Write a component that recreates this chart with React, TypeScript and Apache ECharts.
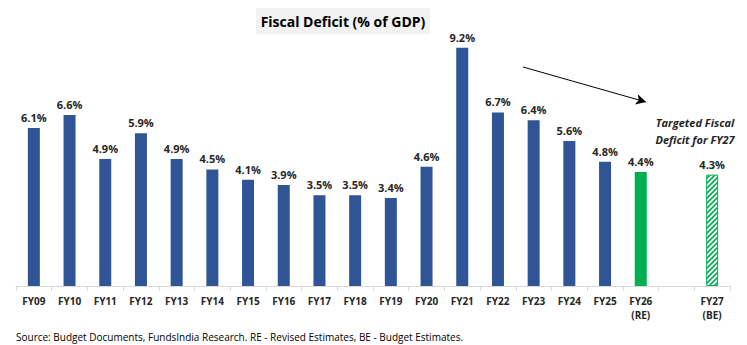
import React, { useEffect, useRef } from "react";
import * as echarts from "echarts";

const categories = ["FY09","FY10","FY11","FY12","FY13","FY14","FY15","FY16","FY17","FY18","FY19","FY20","FY21","FY22","FY23","FY24","FY25","FY26\n(RE)","","FY27\n(BE)"];
const values: (number | null)[] = [6.1,6.6,4.9,5.9,4.9,4.5,4.1,3.9,3.5,3.5,3.4,4.6,9.2,6.7,6.4,5.6,4.8,4.4,null,4.3];
const kinds = ["a","a","a","a","a","a","a","a","a","a","a","a","a","a","a","a","a","re","","be"];
const titleText = "Fiscal Deficit (% of GDP)";
const noteText = "Targeted Fiscal\nDeficit for FY27";
const sourceText = "Source: Budget Documents, FundsIndia Research. RE - Revised Estimates, BE - Budget Estimates.";

const BLUE = "#2F5597";
const GREEN = "#00B050";
const FONT = "'Open Sans', 'Liberation Sans', sans-serif";

const hatchSvg =
  "<svg xmlns='http://www.w3.org/2000/svg' width='5' height='5'>" +
  "<rect width='5' height='5' fill='white'/>" +
  "<path d='M0,5 L5,0 M-1,1 L1,-1 M4,6 L6,4' stroke='%2300B050' stroke-width='1.6'/></svg>";
const hatchUrl = "data:image/svg+xml;utf8," + hatchSvg;

export default function App() {
  const ref = useRef<HTMLDivElement>(null);
  useEffect(() => {
    if (!ref.current) return;
    const chart = echarts.init(ref.current, null, { renderer: "svg" });
    const data = values.map((v, i) => {
      if (v === null) return "-";
      if (kinds[i] === "re") return { value: v, itemStyle: { color: GREEN } };
      if (kinds[i] === "be")
        return {
          value: v,
          itemStyle: {
            color: { image: hatchUrl, repeat: "repeat", imageWidth: 5, imageHeight: 5 },
            borderColor: GREEN,
            borderWidth: 1,
          },
        };
      return v;
    });
    chart.setOption({
      animation: false,
      textStyle: { fontFamily: FONT },
      grid: { left: 16, right: 17, top: 27, bottom: 59 },
      xAxis: {
        type: "category",
        data: categories,
        axisLine: { lineStyle: { color: "#d9d9d9" } },
        axisTick: { show: true, length: 5, lineStyle: { color: "#d9d9d9" } },
        axisLabel: { color: "#262626", fontWeight: "bold", fontSize: 10, fontFamily: FONT, margin: 8, lineHeight: 14, interval: 0 },
      },
      yAxis: { type: "value", min: 0, max: 10, show: false, splitLine: { show: false } },
      series: [
        {
          type: "bar",
          data,
          barWidth: 12,
          itemStyle: { color: BLUE },
          label: {
            show: true,
            position: "top",
            distance: 5,
            color: "#262626",
            fontWeight: "bold",
            fontSize: 11,
            fontFamily: FONT,
            formatter: (p: any) => (typeof p.value === "number" ? p.value.toFixed(1) + "%" : ""),
          },
          markLine: {
            silent: true,
            animation: false,
            symbolSize: [8, 10],
            label: { show: false },
            lineStyle: { color: "#000000", width: 1, type: "solid" },
            data: [[{ x: 523, y: 67, symbol: "none" }, { x: 646, y: 102, symbol: "arrow" }]],
          },
        },
      ],
      graphic: [
        {
          type: "rect",
          shape: { x: 256, y: 8, width: 174, height: 26 },
          style: { fill: "#f2f2f2" },
          silent: true,
        },
        {
          type: "text",
          x: 343,
          y: 21,
          style: { text: titleText, fill: "#000000", font: `bold 14px ${FONT}`, align: "center", verticalAlign: "middle" },
        },
        {
          type: "text",
          x: 695,
          y: 131,
          style: { text: noteText, fill: "#262626", font: `italic bold 11px ${FONT}`, align: "center", verticalAlign: "middle", lineHeight: 17 },
        },
        {
          type: "text",
          x: 16,
          y: 337,
          style: { text: sourceText, fill: "#000000", font: `10px ${FONT}`, align: "left", verticalAlign: "middle" },
        },
      ],
    });
    return () => chart.dispose();
  }, []);
  return <div ref={ref} style={{ width: 747, height: 345, position: "absolute", left: 0, top: 0 }} />;
}
